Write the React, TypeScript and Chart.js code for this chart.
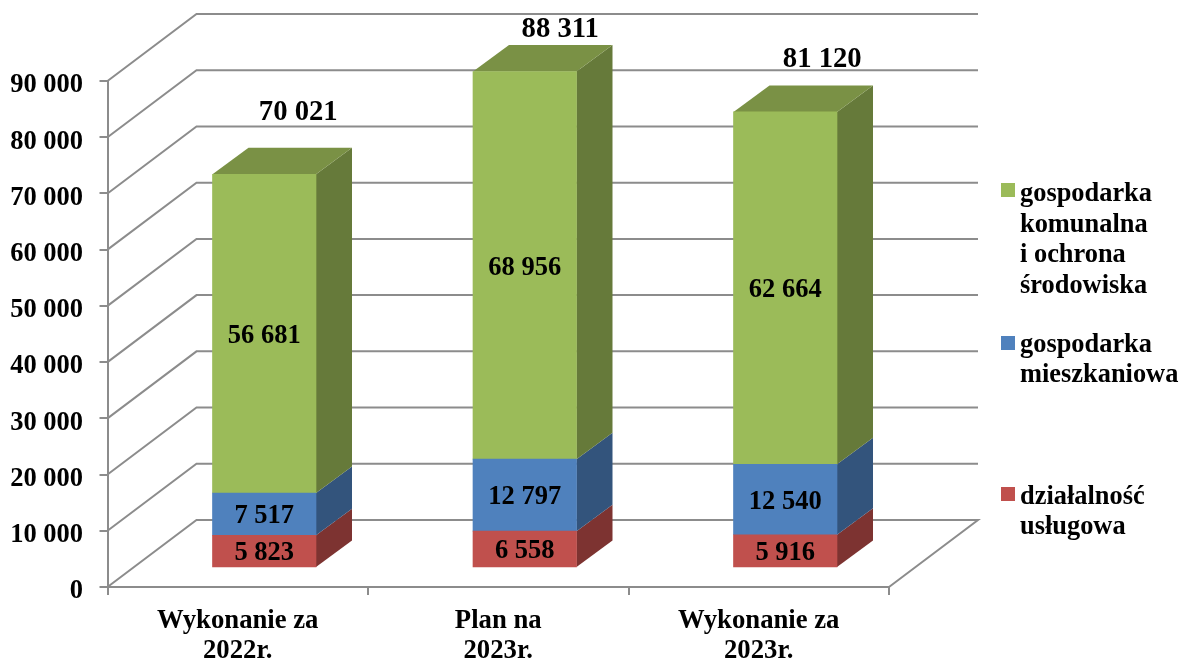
import React, { useEffect, useRef } from "react";
import { Chart, registerables } from "chart.js";

Chart.register(...registerables);

const categories = [["Wykonanie za", "2022r."], ["Plan na", "2023r."], ["Wykonanie za", "2023r."]];
const uslugowa = [5823, 6558, 5916];
const mieszkaniowa = [7517, 12797, 12540];
const komunalna = [56681, 68956, 62664];
const totals = [70021, 88311, 81120];
const legendKomunalna = ["gospodarka", "komunalna", "i ochrona", "środowiska"];
const legendMieszkaniowa = ["gospodarka", "mieszkaniowa"];
const legendUslugowa = ["działalność", "usługowa"];

const FONT = '"Liberation Serif", "Times New Roman", serif';
const GRID = "#8c8c8c";
const WALL = { dx: 89, dy: -67 };
const BAR_SHIFT = { dx: 26.5, dy: -19 };
const BAR_DEPTH = { dx: 36, dy: -26.5 };
const TEXT_DROP = 2.5;
const AXIS_TEXT_DROP = 4.5;
const TOTAL_OFFSET = [{ x: 34, y: -64 }, { x: 35.5, y: -44 }, { x: 37, y: -55 }];
const LEGEND_SPOTS = [
  { top: 183, lines: legendKomunalna, first: 194.5, gap: 30.4 },
  { top: 336, lines: legendMieszkaniowa, first: 345.5, gap: 30 },
  { top: 487, lines: legendUslugowa, first: 497.5, gap: 30 },
];

const fmt = (n: number) => String(n).replace(/\B(?=(\d{3})+$)/g, " ");

type Look = { face: string; side: string; top: string };
const looks: Look[] = [
  { face: "#C0504D", side: "#7D3331", top: "#98403d" },
  { face: "#4F81BD", side: "#33547C", top: "#40689a" },
  { face: "#9BBB59", side: "#667A3A", top: "#7A9145" },
];

function poly(ctx: CanvasRenderingContext2D, pts: number[][], fill: string) {
  ctx.beginPath();
  pts.forEach((p, i) => (i ? ctx.lineTo(p[0], p[1]) : ctx.moveTo(p[0], p[1])));
  ctx.closePath();
  ctx.fillStyle = fill;
  ctx.fill();
}

const scene3d = {
  id: "scene3d",
  beforeDraw(chart: any) {
    // the reference's axis numbers sit slightly below the tick marks
    chart.scales.y.getLabelItems().forEach((item: any) => {
      if (!item.__dropped) {
        item.textOffset += AXIS_TEXT_DROP;
        item.__dropped = true;
      }
    });
  },
  beforeDatasetsDraw(chart: any) {
    const { ctx, scales, chartArea } = chart;
    const y = scales.y;
    const L = chartArea.left;
    const R = chartArea.right;
    ctx.save();
    ctx.strokeStyle = GRID;
    ctx.lineWidth = 2;
    y.ticks.forEach((t: any) => {
      const py = y.getPixelForValue(t.value);
      ctx.beginPath();
      ctx.moveTo(L, py);
      ctx.lineTo(L + WALL.dx, py + WALL.dy);
      ctx.lineTo(R + WALL.dx, py + WALL.dy);
      if (t.value === 0) {
        ctx.lineTo(R, py);
      }
      ctx.stroke();
    });
    chart.data.datasets.forEach((_: any, i: number) => {
      chart.getDatasetMeta(i).data.forEach((bar: any) => {
        const right = bar.x + bar.width / 2 + BAR_SHIFT.dx;
        const left = bar.x - bar.width / 2 + BAR_SHIFT.dx;
        const t = bar.y + BAR_SHIFT.dy;
        const b = bar.base + BAR_SHIFT.dy;
        poly(ctx, [[right, t], [right + BAR_DEPTH.dx, t + BAR_DEPTH.dy], [right + BAR_DEPTH.dx, b + BAR_DEPTH.dy], [right, b]], looks[i].side);
        if (i === chart.data.datasets.length - 1) {
          poly(ctx, [[left, t], [left + BAR_DEPTH.dx, t + BAR_DEPTH.dy], [right + BAR_DEPTH.dx, t + BAR_DEPTH.dy], [right, t]], looks[i].top);
        }
      });
    });
    ctx.restore();
    ctx.save();
    ctx.translate(BAR_SHIFT.dx, BAR_SHIFT.dy);
  },
  afterDatasetsDraw(chart: any) {
    const { ctx } = chart;
    ctx.restore();
    ctx.save();
    ctx.fillStyle = "#000";
    ctx.textAlign = "center";
    ctx.textBaseline = "middle";
    ctx.font = `bold 26.5px ${FONT}`;
    chart.data.datasets.forEach((ds: any, i: number) => {
      chart.getDatasetMeta(i).data.forEach((bar: any, j: number) => {
        ctx.fillText(fmt(ds.data[j]), bar.x + BAR_SHIFT.dx, (bar.y + bar.base) / 2 + BAR_SHIFT.dy + TEXT_DROP);
      });
    });
    const last = chart.getDatasetMeta(chart.data.datasets.length - 1).data;
    ctx.font = `bold 28.7px ${FONT}`;
    totals.forEach((v, j) => {
      ctx.fillText(fmt(v), last[j].x + BAR_SHIFT.dx + TOTAL_OFFSET[j].x, last[j].y + BAR_SHIFT.dy + TOTAL_OFFSET[j].y + TEXT_DROP);
    });
    // legend
    ctx.textAlign = "left";
    ctx.font = `bold 26.4px ${FONT}`;
    const order = [2, 1, 0];
    LEGEND_SPOTS.forEach((spot, k) => {
      ctx.fillStyle = looks[order[k]].face;
      ctx.fillRect(1001, spot.top, 14, 14);
      ctx.fillStyle = "#000";
      spot.lines.forEach((line, n) => ctx.fillText(line, 1020, spot.first + n * spot.gap));
    });
    ctx.restore();
  },
};

export default function App() {
  const ref = useRef<HTMLCanvasElement>(null);
  useEffect(() => {
    const chart = new Chart(ref.current!, {
      type: "bar",
      plugins: [scene3d as any],
      data: {
        labels: categories as any,
        datasets: [
          { label: "działalność usługowa", data: uslugowa, backgroundColor: looks[0].face, clip: false as any },
          { label: "gospodarka mieszkaniowa", data: mieszkaniowa, backgroundColor: looks[1].face, clip: false as any },
          { label: "gospodarka komunalna i ochrona środowiska", data: komunalna, backgroundColor: looks[2].face, clip: false as any },
        ],
      },
      options: {
        responsive: false,
        animation: false,
        layout: { padding: { left: 0, top: 81, right: 295, bottom: 0 } },
        datasets: { bar: { barThickness: 103.5, borderWidth: 0 } },
        plugins: { legend: { display: false }, tooltip: { enabled: false } },
        scales: {
          x: {
            stacked: true,
            afterFit: (s: any) => { s.height = 74; },
            border: { color: GRID, width: 2 },
            grid: { drawOnChartArea: false, drawTicks: true, tickLength: 8, color: GRID, lineWidth: 2, offset: true },
            ticks: { color: "#000", padding: 11, maxRotation: 0, autoSkip: false, font: { family: FONT, size: 26.7, weight: "bold", lineHeight: 1.13 } },
          },
          y: {
            stacked: true,
            min: 0,
            max: 90000,
            afterFit: (s: any) => { s.width = 107.5; },
            border: { color: GRID, width: 2 },
            grid: { drawOnChartArea: false, drawTicks: true, tickLength: 8, color: GRID, lineWidth: 2 },
            ticks: { stepSize: 10000, color: "#000", padding: 16.5, callback: (v: any) => fmt(Number(v)), font: { family: FONT, size: 26.5, weight: "bold" } },
          },
        },
      },
    } as any);
    return () => chart.destroy();
  }, []);
  return <canvas ref={ref} width={1184} height={661} style={{ position: "absolute", left: 0, top: 0, background: "#fff" }} />;
}
